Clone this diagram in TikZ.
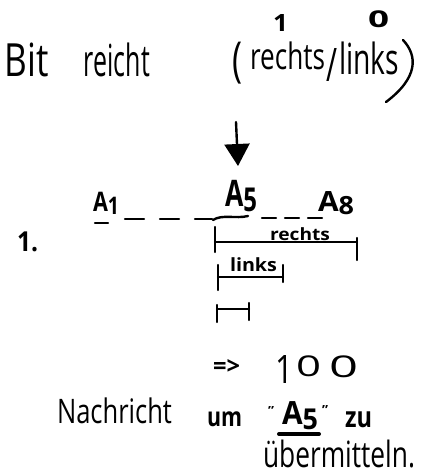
\documentclass[tikz,border=0pt]{standalone}
\usepackage{graphicx}
\usepackage{fontspec}
\setmainfont{Open Sans}
\usetikzlibrary{arrows.meta}
% a word squeezed into a given box (width, total height) in pt
\newcommand\hw[3]{\resizebox*{#1pt}{#2pt}{#3}}
\tikzset{
  ink/.style={line width=2.4pt, line cap=round, line join=round},
  word/.style={anchor=north west, inner sep=0pt, outer sep=0pt},
  small/.style={word, font=\bfseries},
  gap/.style={ink, dash pattern=on 19pt off 16pt},
  gapb/.style={ink, dash pattern=on 14pt off 9pt},
}
\begin{document}
\begin{tikzpicture}[x=1pt,y=-1pt]
\useasboundingbox[fill=white] (0,0) rectangle (421,475);

% heading
\node[word] (bit)    at (5,43)   {\hw{44}{34}{Bit}};
\node[word] (reicht) at (84,43)  {\hw{66}{34}{reicht}};
\node[word] (lp)     at (232,42) {\hw{10}{42}{(}};
\node[word] (re)     at (250,42) {\hw{75}{28}{rechts}};
\node[word] (sl)     at (326,48) {\hw{11}{33}{/}};
\node[word] (li)     at (339,42) {\hw{60}{33}{links}};
\draw[ink] (403,40) .. controls (418,56) and (418,78) .. (386,102);
\node[small] (one)   at (273,14) {\hw{15}{17}{1}};
\node[small] (zero)  at (368,11) {\hw{21}{17}{0}};

% arrow onto A5
\coordinate (atop) at (236,122);
\coordinate (atip) at (238,166);
\draw[ink,-{Triangle[width=25pt,length=22pt]}] (atop) -- (atip);

% step label
\node[small] (step) at (17,232) {\hw{21}{20}{1.}};

% the row of nodes
\node[small] (a1) at (93,192)  {\hw{26}{22}{A\raisebox{-0.1em}{\small 1}}};
\node[small] (a5) at (225,180) {\hw{32}{32}{A\raisebox{-0.15em}{\small 5}}};
\node[small] (a8) at (318,192) {\hw{36}{23}{A\raisebox{-0.1em}{\small 8}}};
\draw[ink] (95,223) -- (108,223);
\draw[ink] (213,220) .. controls (222,214) and (236,219) .. (248,216);
\coordinate (l1) at (125,219);
\coordinate (l2) at (212,219);
\coordinate (r1) at (262,218);
\coordinate (r2) at (328,218);
\draw[gap] (l1) -- (l2);
\draw[gapb] (r1) -- (r2);

% range "rechts"
\draw[ink] (215,227) -- (215,252);
\draw[ink] (215,242) -- (357,242);
\draw[ink] (357,238) -- (357,260);
\node[small] (rlab) at (270,228) {\hw{60}{13}{rechts}};

% range "links"
\draw[ink] (218,265) -- (218,290);
\draw[ink] (218,277) -- (283,277);
\draw[ink] (283,265) -- (283,282);
\node[small] (llab) at (230,258) {\hw{47}{14}{links}};

% last range
\draw[ink] (217,305) -- (217,322);
\draw[ink] (217,309) -- (249,309);
\draw[ink] (249,303) -- (249,320);

% result
\node[small] (impl) at (213,359) {\hw{27}{15}{=>}};
\node[word]  (d1)   at (275,355) {\hw{18}{28}{1}};
\node[word]  (d2)   at (296,356) {\hw{25}{21}{0}};
\node[word]  (d3)   at (329,356) {\hw{29}{22}{0}};

% message
\node[word]  (na)  at (57,398)  {\hw{115}{26}{Nachricht}};
\node[small] (um)  at (207,412) {\hw{35}{15}{um}};
\node[small] (q1)  at (268,406) {\hw{6}{8}{"}};
\node[small] (ma5) at (282,402) {\hw{36}{28}{A\raisebox{-0.15em}{\small 5}}};
\node[small] (q2)  at (322,405) {\hw{6}{9}{"}};
\draw[ink, line width=4pt] (279,434) -- (319,434);
\node[small] (zu)  at (345,412) {\hw{27}{16}{zu}};
\node[word]  (ub)  at (263,440) {\hw{152}{28}{übermitteln.}};
\end{tikzpicture}
\end{document}
